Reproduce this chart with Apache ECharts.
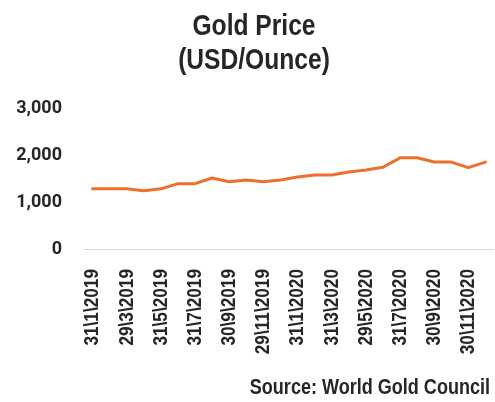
<!DOCTYPE html>
<html>
<head>
<meta charset="utf-8">
<script src="https://cdn.jsdelivr.net/npm/echarts@6/dist/echarts.min.js"></script>
<style>html,body{margin:0;padding:0;background:#fff;}#c{width:495px;height:402px;}</style>
</head>
<body>
<div id="c"></div>
<script>
const categories = ['31\\1\\2019','28\\2\\2019','29\\3\\2019','30\\4\\2019','31\\5\\2019','28\\6\\2019','31\\7\\2019','30\\8\\2019','30\\9\\2019','31\\10\\2019','29\\11\\2019','31\\12\\2019','31\\1\\2020','28\\2\\2020','31\\3\\2020','30\\4\\2020','29\\5\\2020','30\\6\\2020','31\\7\\2020','31\\8\\2020','30\\9\\2020','30\\10\\2020','30\\11\\2020','31\\12\\2020'];
const goldPrice = [1280,1280,1280,1240,1280,1390,1390,1510,1430,1470,1430,1470,1530,1575,1575,1640,1680,1740,1940,1940,1850,1850,1730,1850];
const yTicks = [0, 1000, 2000, 3000];
const titleLines = ['Gold Price', '(USD/Ounce)'];
const sourceText = 'Source: World Gold Council';

const FONT = '"Liberation Sans", Arial, sans-serif';
const NARROW = 0.82;
const INK = '#262626';
const chart = echarts.init(document.getElementById('c'), null, {renderer: 'canvas'});
chart.setOption({
  animation: false,
  backgroundColor: '#ffffff',
  grid: {left: 84, right: 1, top: 108, bottom: 153, containLabel: false, outerBoundsMode: 'none'},
  xAxis: {
    type: 'category', data: categories, boundaryGap: true,
    axisLine: {show: true, lineStyle: {color: '#d9d9d9', width: 1}},
    axisTick: {show: false},
    axisLabel: {show: false}
  },
  yAxis: {
    type: 'value', min: yTicks[0], max: yTicks[yTicks.length - 1], interval: 1000,
    axisLine: {show: false}, axisTick: {show: false}, splitLine: {show: false},
    axisLabel: {margin: 22, fontFamily: 'Roboto, sans-serif', fontWeight: 'bold', fontSize: 18, color: INK,
      formatter: v => v.toLocaleString('en-US')}
  },
  series: [{
    type: 'line', data: goldPrice, symbol: 'none',
    lineStyle: {color: '#EE6E2C', width: 3, join: 'round', cap: 'round'}
  }]
});

// condensed-looking text: Arial-metric bold font squeezed horizontally (like Arial Narrow)
const graphics = [];
titleLines.forEach((t, i) => {
  graphics.push({
    type: 'text', x: 254, y: 27 + i * 34, scaleX: NARROW,
    style: {text: t, font: 'bold 30px ' + FONT, fill: INK, textAlign: 'center', textVerticalAlign: 'middle'}
  });
});
graphics.push({
  type: 'text', x: 490, y: 388, scaleX: NARROW,
  style: {text: sourceText, font: 'bold 22px ' + FONT, fill: INK, textAlign: 'right', textVerticalAlign: 'middle'}
});
// x axis category labels, every other one, positioned by the category axis
const axisY = chart.convertToPixel({yAxisIndex: 0}, 0);
categories.forEach((c, i) => {
  if (i % 2 !== 0) return;
  const px = chart.convertToPixel({xAxisIndex: 0}, i);
  graphics.push({
    type: 'text', x: px, y: axisY + 20, rotation: Math.PI / 2, scaleX: NARROW,
    style: {text: c, font: 'bold 21px ' + FONT, fill: INK, textAlign: 'right', textVerticalAlign: 'middle'}
  });
});
chart.setOption({graphic: graphics});
</script>
</body>
</html>
